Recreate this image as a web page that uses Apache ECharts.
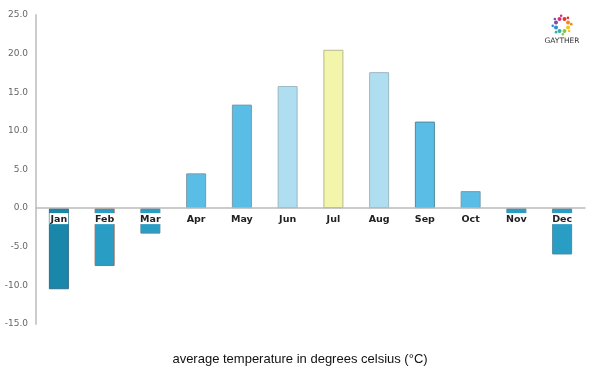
<!DOCTYPE html>
<html><head><meta charset="utf-8">
<script src="https://cdn.jsdelivr.net/npm/echarts@6/dist/echarts.min.js"></script>
<style>html,body{margin:0;padding:0;background:#fff}#c{width:600px;height:375px}</style>
</head><body><div id="c"></div>
<script>
var months = ['Jan','Feb','Mar','Apr','May','Jun','Jul','Aug','Sep','Oct','Nov','Dec'];
var temps = [-10.5, -7.5, -3.3, 4.5, 13.4, 15.8, 20.5, 17.6, 11.2, 2.2, -0.8, -6.0];
var yTicks = [-15, -10, -5, 0, 5, 10, 15, 20, 25];
var barColors = ['#1a87aa','#2a9dc5','#2a9dc5','#5abde6','#5abde6','#b0def1','#f3f5aa','#b0def1','#5abde6','#5abde6','#2a9dc5','#2a9dc5'];
var borderColors = ['#2d6f86','#9a6a5a','#4d8aa0','#7a9aa8','#7a9aa8','#9ab8c4','#b8b890','#9ab8c4','#4d8aa0','#7a9aa8','#4d8aa0','#4d8aa0'];

var chart = echarts.init(document.getElementById('c'));
var logoColors = ['#e5322d','#f08a1c','#f6c51a','#8cc63f','#2bb5a0','#2a8fd0','#7a4fa0','#d7307a'];
var logo = [];
for (var i = 0; i < 8; i++) {
  var a = -Math.PI/2 + i * Math.PI / 4 + Math.PI/8;
  logo.push({type:'circle', shape:{cx:562 + 6.5*Math.cos(a), cy:25 + 6.5*Math.sin(a), r:2.0}, style:{fill:logoColors[i]}});
  logo.push({type:'circle', shape:{cx:562 + 9.3*Math.cos(a+0.3), cy:25 + 9.3*Math.sin(a+0.3), r:1.3}, style:{fill:logoColors[i]}});
}
logo.push({type:'text', style:{text:'GAYTHER', x:562, y:41, textAlign:'center', textVerticalAlign:'middle', font:'7.5px "DejaVu Sans"', fill:'#333'}});

chart.setOption({
  animation:false,
  grid:{left:36, right:15, top:15, bottom:51},
  title:{text:'average temperature in degrees celsius (°C)', left:'center', top:348,
    textStyle:{fontFamily:'Liberation Sans', fontSize:13, fontWeight:'normal', color:'#111'}},
  xAxis:{type:'category', data:months, z:10,
    axisLine:{onZero:true, lineStyle:{color:'#bbbbbb', width:1.5}},
    axisTick:{show:false},
    axisLabel:{show:false}},
  yAxis:{type:'value', min:-15, max:25, interval:5,
    axisLine:{show:true, lineStyle:{color:'#cccccc', width:2}},
    axisTick:{show:false}, splitLine:{show:false},
    axisLabel:{margin:8, fontFamily:'DejaVu Sans', fontSize:9, color:'#666',
      formatter:function(v){return v.toFixed(1);}}},
  series:[{type:'bar', barWidth:20,
    data: temps.map(function(v,i){return {value:v, itemStyle:{color:barColors[i], borderColor:borderColors[i], borderWidth:1}};})
  },{type:'scatter', symbolSize:0, z:20, silent:true, itemStyle:{opacity:1},
    data: months.map(function(m){return 0;}),
    label:{show:true, position:'bottom', distance:5, opacity:1,
      formatter:function(p){return months[p.dataIndex];},
      fontFamily:'DejaVu Sans', fontSize:9.5, fontWeight:'bold', color:'#222',
      backgroundColor:'#ffffff', padding:[1,1,0,1]}
  }],
  graphic: logo
});
</script></body></html>
